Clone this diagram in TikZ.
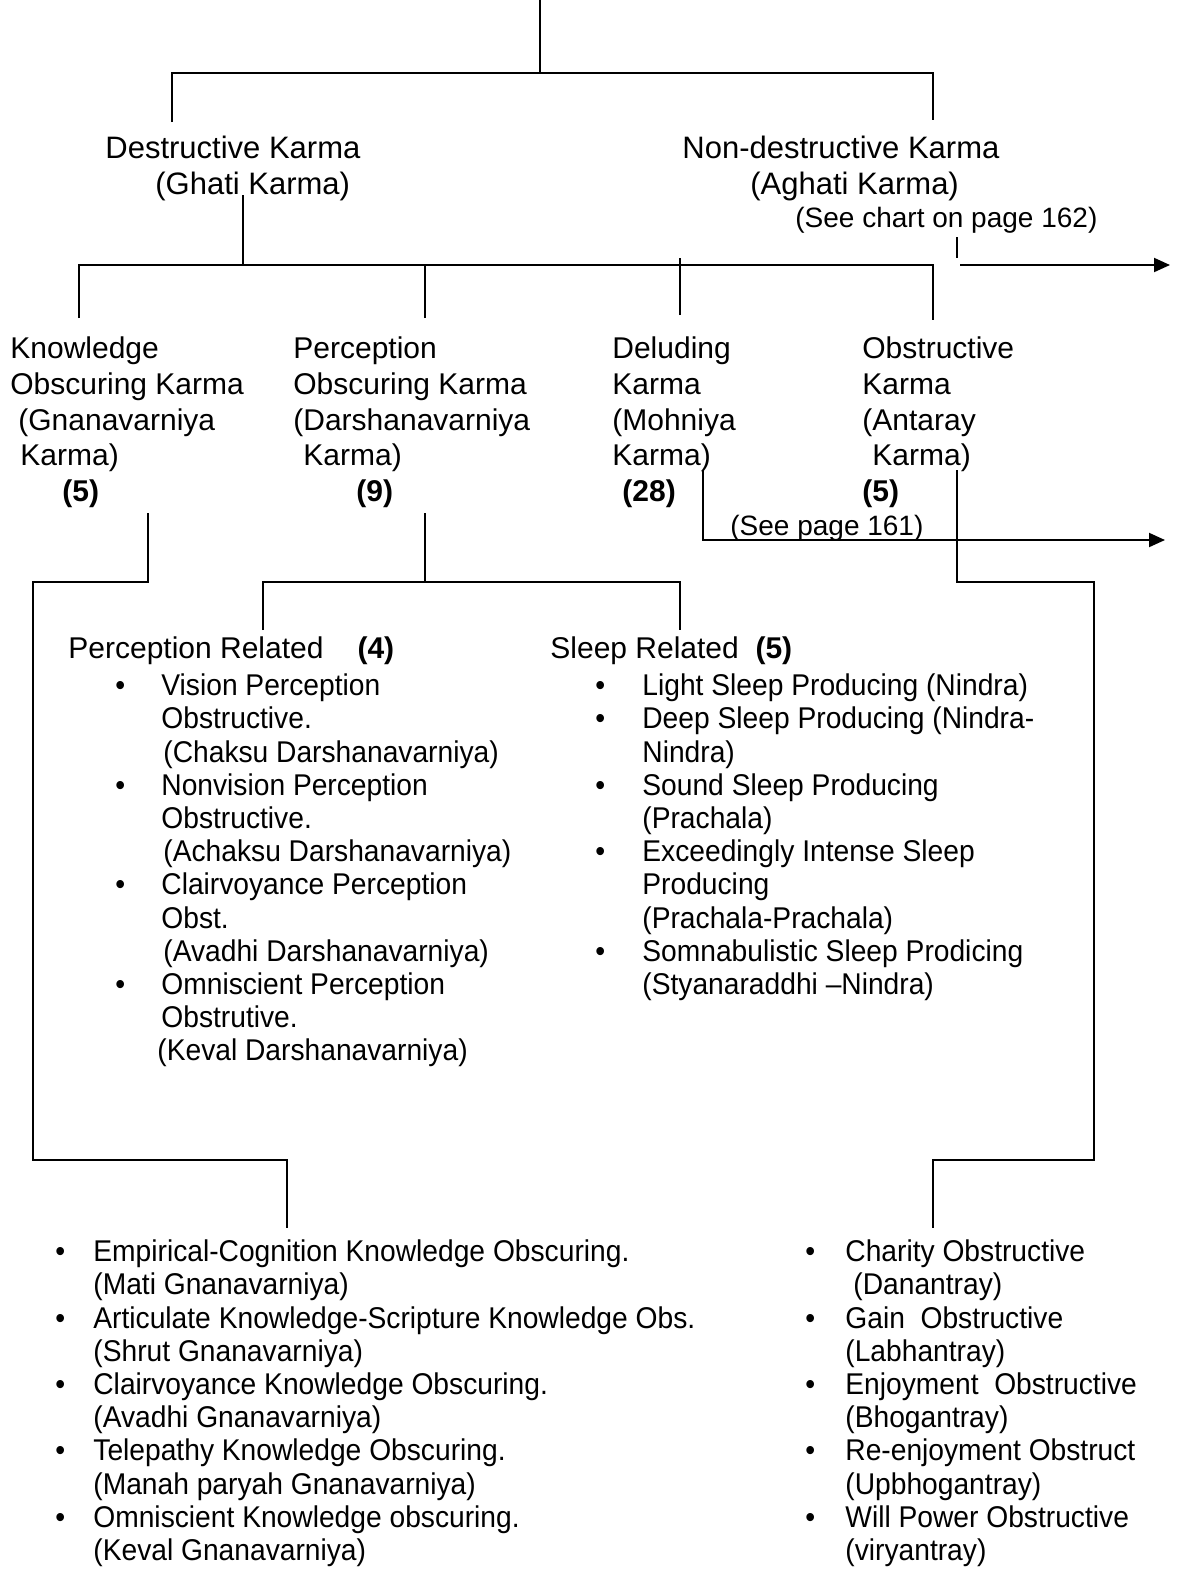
\documentclass[tikz,border=0pt]{standalone}
\usepackage{fontspec}
\setmainfont{Liberation Sans}
\newfontfamily\narrowfont[FakeStretch=0.94,Ligatures=TeX]{Liberation Sans}
\usetikzlibrary{arrows.meta}
\tikzset{
    >={Triangle[length=8pt,width=7pt]},
    wire/.style={line width=1pt},
    txt/.style={anchor=north west, inner sep=0pt, align=left, font=\fontsize{15}{17.9}\selectfont},
    toptxt/.style={txt, font=\fontsize{15.5}{18}\selectfont},
    hdrtxt/.style={txt, font=\fontsize{15}{16.6}\selectfont},
    listtxt/.style={txt, font={\narrowfont\fontsize{15}{16.6}\selectfont\setlength\bw{#1}}},
    notetxt/.style={txt, font=\fontsize{14}{15}\selectfont},
}
\newlength\bw
\newcommand{\bu}{\makebox[\bw][l]{\textbullet}}
\newcommand{\cu}{\hspace*{\bw}}

\begin{document}
\begin{tikzpicture}[x=0.5pt,y=-0.5pt]
    \useasboundingbox (0,0) rectangle (1187,1586);

    % ghati / aghati
    \node[toptxt] (dk) at (105,133) {\strut Destructive Karma\\\hspace*{25pt}(Ghati Karma)};
    \node[toptxt] (ndk) at (682,133) {\strut Non-destructive Karma\\\hspace*{34pt}(Aghati Karma)};
    \node[notetxt] (see162) at (795,206) {\strut(See chart on page 162)};

    % the four ghati karmas
    \node[txt] (know) at (10,333) {\strut Knowledge\\Obscuring Karma\\\hspace*{4pt}(Gnanavarniya\\\hspace*{5pt}Karma)\\\hspace*{26pt}\textbf{(5)}};
    \node[txt] (perc) at (293,333) {\strut Perception\\Obscuring Karma\\(Darshanavarniya\\\hspace*{5pt}Karma)\\\hspace*{31.5pt}\textbf{(9)}};
    \node[txt] (delu) at (612,333) {\strut Deluding\\Karma\\(Mohniya\\Karma)\\\hspace*{5pt}\textbf{(28)}};
    \node[txt] (obst) at (862,333) {\strut Obstructive\\Karma\\(Antaray\\\hspace*{5pt}Karma)\\\textbf{(5)}};
    \node[notetxt] (see161) at (730,514) {\strut(See page 161)};

    % darshanavarniya split
    \node[hdrtxt] (perrel) at (68,635) {\strut Perception Related\hspace{17pt}\textbf{(4)}};
    \node[hdrtxt] (sleeprel) at (550,635) {\strut Sleep Related\ \ \textbf{(5)}};
    \node[listtxt=23pt] (perclist) at (115,672) {\strut\bu Vision Perception\\
        \cu Obstructive.\\
        \cu\hspace*{1pt}(Chaksu Darshanavarniya)\\
        \bu Nonvision Perception\\
        \cu Obstructive.\\
        \cu\hspace*{1pt}(Achaksu Darshanavarniya)\\
        \bu Clairvoyance Perception\\
        \cu Obst.\\
        \cu\hspace*{1pt}(Avadhi Darshanavarniya)\\
        \bu Omniscient Perception\\
        \cu Obstrutive.\\
        \hspace*{21pt}(Keval Darshanavarniya)};
    \node[listtxt=23.5pt] (sleeplist) at (595,672) {\strut\bu Light Sleep Producing (Nindra)\\
        \bu Deep Sleep Producing (Nindra-\\
        \cu Nindra)\\
        \bu Sound Sleep Producing\\
        \cu (Prachala)\\
        \bu Exceedingly Intense Sleep\\
        \cu Producing\\
        \cu (Prachala-Prachala)\\
        \bu Somnabulistic Sleep Prodicing\\
        \cu (Styanaraddhi \textendash Nindra)};

    % gnanavarniya and antaray lists
    \node[listtxt=19pt] (knowlist) at (55,1238) {\strut\bu Empirical-Cognition Knowledge Obscuring.\\
        \cu (Mati Gnanavarniya)\\
        \bu Articulate Knowledge-Scripture Knowledge Obs.\\
        \cu (Shrut Gnanavarniya)\\
        \bu Clairvoyance Knowledge Obscuring.\\
        \cu (Avadhi Gnanavarniya)\\
        \bu Telepathy Knowledge Obscuring.\\
        \cu (Manah paryah Gnanavarniya)\\
        \bu Omniscient Knowledge obscuring.\\
        \cu (Keval Gnanavarniya)};
    \begin{scope}
        \clip (0,0) rectangle (1136,1586);
        \node[listtxt=20pt] (obstlist) at (805,1238) {\strut\bu Charity Obstructive\\
            \cu\hspace*{4pt}(Danantray)\\
            \bu Gain\ \ Obstructive\\
            \cu (Labhantray)\\
            \bu Enjoyment\ \ Obstructive\\
            \cu (Bhogantray)\\
            \bu Re-enjoyment Obstructive\\
            \cu (Upbhogantray)\\
            \bu Will Power Obstructive\\
            \cu (viryantray)};
    \end{scope}

    % connector points
    \coordinate (root) at (540,0);
    \coordinate (root-j) at (540,73);
    \coordinate (dk-in) at (172,122);
    \coordinate (ndk-in) at (933,120);
    \coordinate (dk-out) at (243,195);
    \coordinate (bus) at (243,265);
    \coordinate (know-in) at (79,318);
    \coordinate (perc-in) at (425,318);
    \coordinate (delu-in) at (680,315);
    \coordinate (obst-in) at (933,320);
    \coordinate (see162-tick) at (957,237);
    \coordinate (aghati-out) at (960,265);
    \coordinate (aghati-end) at (1170,265);
    \coordinate (know-out) at (148,513);
    \coordinate (knowlist-in) at (287,1228);
    \coordinate (perc-out) at (425,513);
    \coordinate (perrel-in) at (263,630);
    \coordinate (sleeprel-in) at (680,630);
    \coordinate (delu-out) at (703,470);
    \coordinate (mohniya-end) at (1165,540);
    \coordinate (obst-out) at (957,470);
    \coordinate (obstlist-in) at (933,1228);

    % connectors
    \draw[wire] (root) -- (root-j);
    \draw[wire] (dk-in) |- (root-j) -| (ndk-in);
    \draw[wire] (dk-out) -- (bus);
    \draw[wire] (know-in) |- (bus) -| (obst-in);
    \draw[wire] (perc-in) -- (perc-in |- bus);
    \draw[wire] (delu-in) -- ++(0,-57);
    \draw[wire] (see162-tick) -- ++(0,21);
    \draw[wire,->] (aghati-out) -- (aghati-end);
    \draw[wire] (know-out) -- ++(0,69) -| (33,1160) -| (knowlist-in);
    \draw[wire] (perc-out) -- ++(0,69);
    \draw[wire] (perrel-in) -- ++(0,-48) -| (sleeprel-in);
    \draw[wire,->] (delu-out) |- (mohniya-end);
    \draw[wire] (obst-out) -- ++(0,112) -| (1094,1160) -| (obstlist-in);
\end{tikzpicture}
\end{document}
